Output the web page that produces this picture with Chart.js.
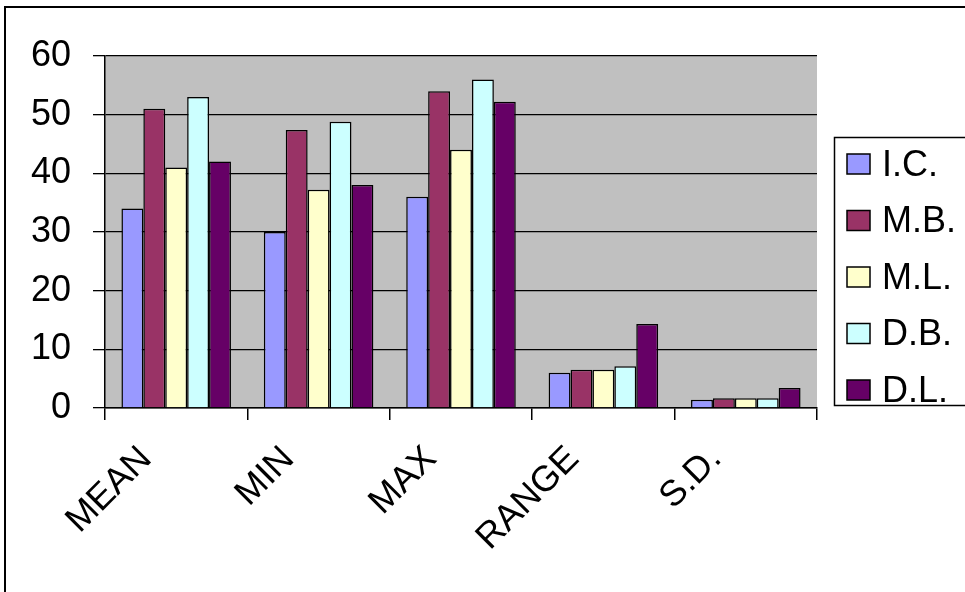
<!DOCTYPE html>
<html>
<head>
<meta charset="utf-8">
<script src="https://cdn.jsdelivr.net/npm/chart.js@4/dist/chart.umd.min.js"></script>
<style>
  html, body { margin: 0; padding: 0; background: #ffffff; }
  #wrap { width: 965px; height: 592px; }
</style>
</head>
<body>
<div id="wrap"><canvas id="c" width="965" height="592"></canvas></div>
<script>
// Summary statistics per group
const categories = ['MEAN', 'MIN', 'MAX', 'RANGE', 'S.D.'];
const seriesNames = ['I.C.', 'M.B.', 'M.L.', 'D.B.', 'D.L.'];
const icValues = [34, 30, 36, 6.0, 1.4];
const mbValues = [51, 47.4, 54, 6.5, 1.65];
const mlValues = [41, 37.2, 44, 6.5, 1.65];
const dbValues = [53, 48.8, 56, 7.1, 1.65];
const dlValues = [42, 38, 52.2, 14.3, 3.4];
const seriesColors = ['#9999FF', '#993366', '#FFFFCC', '#CCFFFF', '#660066'];
const yMin = 0, yMax = 60, yStep = 10;

const FONT = '"Liberation Sans", Arial, sans-serif';
const FONT_SIZE = 36;
const seriesValues = [icValues, mbValues, mlValues, dbValues, dlValues];

// Page frame, grey plot area and the boxed legend on the right
const framePlugin = {
  id: 'frame',
  beforeDraw(chart) {
    const ctx = chart.ctx;
    const a = chart.chartArea;
    ctx.save();
    ctx.fillStyle = '#ffffff';
    ctx.fillRect(0, 0, chart.width, chart.height);
    ctx.strokeStyle = '#000000';
    ctx.lineWidth = 2;
    ctx.strokeRect(5, 7, chart.width + 20, chart.height + 20);
    ctx.fillStyle = '#C0C0C0';
    ctx.fillRect(a.left, a.top, a.right - a.left, a.bottom - a.top);
    ctx.restore();
  },
  afterDraw(chart) {
    const ctx = chart.ctx;
    ctx.save();
    ctx.strokeStyle = '#000000';
    ctx.lineWidth = 1.5;
    ctx.strokeRect(834.5, 137.5, 200, 268);
    ctx.font = FONT_SIZE + 'px ' + FONT;
    ctx.textBaseline = 'middle';
    ctx.textAlign = 'left';
    chart.data.datasets.forEach((ds, i) => {
      const cy = 164 + i * 56.5;
      ctx.fillStyle = ds.backgroundColor;
      ctx.fillRect(847, cy - 10, 23, 20);
      ctx.lineWidth = 1.5;
      ctx.strokeRect(847, cy - 10, 23, 20);
      ctx.fillStyle = '#000000';
      ctx.fillText(ds.label, 882, cy + 2);
    });
    ctx.restore();
  }
};

new Chart(document.getElementById('c'), {
  type: 'bar',
  data: {
    labels: categories,
    datasets: seriesNames.map((name, i) => ({
      label: name,
      data: seriesValues[i],
      backgroundColor: seriesColors[i],
      borderColor: '#000000',
      borderWidth: 1.5,
      categoryPercentage: 5 / 6.5,
      barPercentage: 1.0
    }))
  },
  options: {
    responsive: false,
    animation: false,
    layout: { padding: { left: 0, right: 148, top: 56, bottom: 0 } },
    plugins: {
      legend: { display: false },
      tooltip: { enabled: false }
    },
    scales: {
      x: {
        afterFit(scale) { scale.height = 184; },
        grid: {
          offset: true,
          drawOnChartArea: false,
          drawTicks: true,
          tickLength: 12,
          color: '#000000',
          lineWidth: 1.5
        },
        border: { color: '#000000', width: 1.5 },
        ticks: {
          color: '#000000',
          font: { family: FONT, size: FONT_SIZE },
          minRotation: 45,
          maxRotation: 45,
          padding: 18,
          labelOffset: -30,
          autoSkip: false
        }
      },
      y: {
        min: yMin,
        max: yMax,
        afterFit(scale) { scale.width = 105; },
        grid: {
          color: '#000000',
          lineWidth: 1.3,
          drawTicks: true,
          tickLength: 12
        },
        border: { color: '#000000', width: 1.5 },
        ticks: {
          stepSize: yStep,
          color: '#000000',
          font: { family: FONT, size: FONT_SIZE },
          padding: 22
        }
      }
    }
  },
  plugins: [framePlugin]
});
</script>
</body>
</html>
